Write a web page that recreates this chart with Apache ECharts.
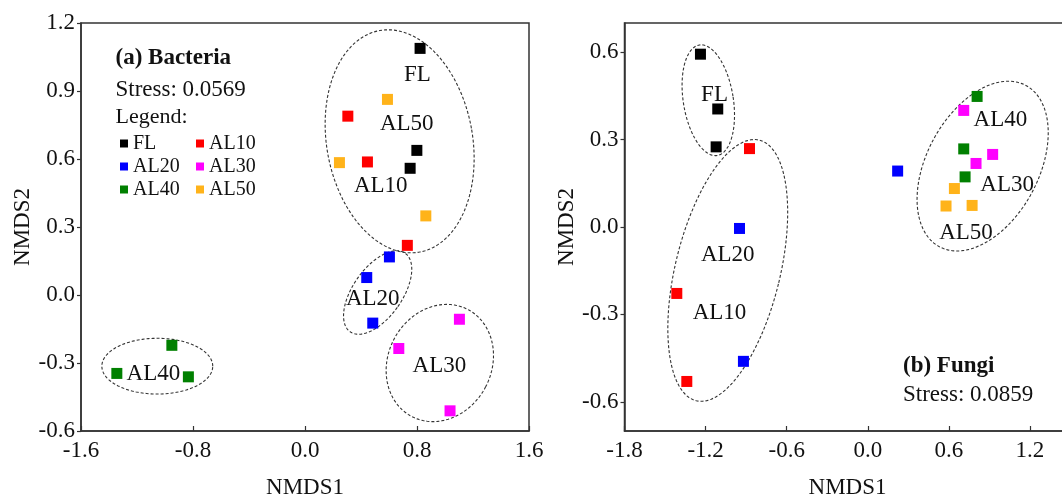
<!DOCTYPE html>
<html><head><meta charset="utf-8">
<script src="https://cdn.jsdelivr.net/npm/echarts@6/dist/echarts.min.js"></script>
<style>html,body{margin:0;padding:0;overflow:hidden;background:#fff}#c{width:1080px;height:497px}</style>
</head><body><div id="c"></div><script>
// ---------- data ----------
const groups = ['FL', 'AL10', 'AL20', 'AL30', 'AL40', 'AL50'];
// (a) Bacteria  [NMDS1, NMDS2]
const bacFL   = [[0.822, 1.088], [0.799, 0.638], [0.751, 0.559]];
const bacAL10 = [[0.306, 0.789], [0.446, 0.587], [0.731, 0.219]];
const bacAL20 = [[0.603, 0.168], [0.441, 0.077], [0.484, -0.124]];
const bacAL30 = [[1.103, -0.107], [0.670, -0.236], [1.036, -0.511]];
const bacAL40 = [[-0.951, -0.222], [-1.344, -0.346], [-0.833, -0.361]];
const bacAL50 = [[0.589, 0.863], [0.246, 0.584], [0.863, 0.349]];
// (b) Fungi
const funFL   = [[-1.238, 0.593], [-1.110, 0.405], [-1.122, 0.275]];
const funAL10 = [[-0.875, 0.269], [-1.413, -0.228], [-1.339, -0.530]];
const funAL20 = [[-0.949, -0.005], [-0.920, -0.461], [0.221, 0.192]];
const funAL30 = [[0.710, 0.400], [0.924, 0.249], [0.801, 0.218]];
const funAL40 = [[0.809, 0.448], [0.710, 0.268], [0.720, 0.172]];
const funAL50 = [[0.641, 0.132], [0.579, 0.072], [0.772, 0.074]];
// group ellipses: [centre NMDS1, centre NMDS2, half-width (NMDS1 units), half-height (NMDS2 units), tilt deg]
const bacEllipses = [[0.676, 0.678, 0.521, 0.4965, -10.2], [0.519, 0.011, 0.176, 0.2115, 35], [0.963, -0.300, 0.369, 0.2665, 27.8], [-1.055, -0.314, 0.396, 0.123, 0]];
const funEllipses = [[-1.180, 0.435, 0.185, 0.192, -9.1], [-1.036, -0.149, 0.388, 0.460, 13.6], [0.850, 0.209, 0.414, 0.314, 28.2]];
// group name annotations
const bacLabels = [['FL', 0.803, 0.972], ['AL50', 0.727, 0.756], ['AL10', 0.541, 0.483], ['AL20', 0.484, -0.019], ['AL30', 0.960, -0.313], ['AL40', -1.083, -0.349]];
const funLabels = [['FL', -1.134, 0.454], ['AL40', 0.981, 0.369], ['AL30', 1.031, 0.143], ['AL50', 0.727, -0.019], ['AL20', -1.036, -0.097], ['AL10', -1.097, -0.295]];
const bacXTicks = [-1.6, -0.8, 0.0, 0.8, 1.6];
const bacYTicks = [-0.6, -0.3, 0.0, 0.3, 0.6, 0.9, 1.2];
const funXTicks = [-1.8, -1.2, -0.6, 0.0, 0.6, 1.2];
const funYTicks = [-0.6, -0.3, 0.0, 0.3, 0.6];
// ---------- style ----------
const colors = ['#000000', '#FF0000', '#0000FF', '#FF00FF', '#008000', '#FFB31A'];
const FONT = "'Liberation Serif','Times New Roman',serif";
const TXT = '#111';
const bacData = [bacFL, bacAL10, bacAL20, bacAL30, bacAL40, bacAL50];
const funData = [funFL, funAL10, funAL20, funAL30, funAL40, funAL50];

function ellipseItem(params, api) {
  const c = api.coord([api.value(0), api.value(1)]);
  const s = api.size([api.value(2), api.value(3)]);
  const rx = s[0], ry = s[1], th = api.value(4) * Math.PI / 180;
  const pts = [];
  for (let i = 0; i <= 160; i++) {
    const t = i / 160 * 2 * Math.PI;
    pts.push([c[0] + rx * Math.cos(t) * Math.cos(th) + ry * Math.sin(t) * Math.sin(th),
              c[1] + rx * Math.cos(t) * Math.sin(th) - ry * Math.sin(t) * Math.cos(th)]);
  }
  return { type: 'polyline', shape: { points: pts }, style: { fill: null, stroke: '#333', lineWidth: 1.1, lineDash: [3, 2] } };
}
function labelRenderer(list) {
  return function (params, api) {
    const p = api.coord([api.value(0), api.value(1)]);
    return { type: 'text', x: p[0], y: p[1], style: { text: list[params.dataIndex][0], fontSize: 23, fontFamily: FONT, fill: TXT, align: 'center', verticalAlign: 'middle' } };
  };
}
function xAxis(idx, min, max, ticks) {
  return {
    type: 'value', gridIndex: idx, min: min, max: max, interval: ticks[1] - ticks[0],
    name: 'NMDS1', nameLocation: 'middle', nameGap: 45,
    nameTextStyle: { fontSize: 23, fontFamily: FONT, color: TXT },
    axisLine: { onZero: false, lineStyle: { color: '#333', width: 1.5 } },
    axisTick: { inside: true, length: 5, lineStyle: { color: '#333', width: 1.2 }, customValues: ticks },
    axisLabel: { fontSize: 23, fontFamily: FONT, color: TXT, margin: 8, customValues: ticks, formatter: v => (+v).toFixed(1) },
    splitLine: { show: false }
  };
}
function yAxis(idx, min, max, ticks, gap) {
  return {
    type: 'value', gridIndex: idx, min: min, max: max,
    name: 'NMDS2', nameLocation: 'middle', nameGap: gap,
    nameTextStyle: { fontSize: 23, fontFamily: FONT, color: TXT },
    axisLine: { onZero: false, lineStyle: { color: '#333', width: 1.5 } },
    axisTick: { inside: false, length: 4, lineStyle: { color: '#333', width: 1.2 }, customValues: ticks },
    axisLabel: { fontSize: 23, fontFamily: FONT, color: TXT, margin: 6, customValues: ticks, formatter: v => (+v).toFixed(1) },
    splitLine: { show: false }
  };
}
const series = [];
[bacData, funData].forEach((panel, p) => {
  series.push({ type: 'custom', xAxisIndex: p, yAxisIndex: p, silent: true, z: 1,
    data: p === 0 ? bacEllipses : funEllipses, encode: { x: 0, y: 1 }, renderItem: ellipseItem });
  panel.forEach((d, g) => {
    series.push({ type: 'scatter', name: groups[g], xAxisIndex: p, yAxisIndex: p, z: 3,
      symbol: 'rect', symbolSize: 11, itemStyle: { color: colors[g], opacity: 1 }, data: d });
  });
  const lab = p === 0 ? bacLabels : funLabels;
  series.push({ type: 'custom', xAxisIndex: p, yAxisIndex: p, silent: true, z: 2,
    data: lab.map(l => [l[1], l[2]]), encode: { x: 0, y: 1 }, renderItem: labelRenderer(lab) });
});

const chart = echarts.init(document.getElementById('c'), null, { renderer: 'canvas' });
chart.setOption({
  animation: false,
  backgroundColor: '#fff',
  color: colors,
  grid: [
    { left: 81, top: 23, width: 448, height: 408, containLabel: false, outerBoundsMode: 'none', show: true, borderColor: '#333', borderWidth: 1.5, backgroundColor: 'transparent' },
    { left: 624.5, top: 23, width: 446, height: 408, containLabel: false, outerBoundsMode: 'none', show: true, borderColor: '#333', borderWidth: 1.5, backgroundColor: 'transparent' }
  ],
  xAxis: [xAxis(0, -1.6, 1.6, bacXTicks), xAxis(1, -1.8, 1.5, funXTicks)],
  yAxis: [yAxis(0, -0.6, 1.2, bacYTicks, 45), yAxis(1, -0.7, 0.7, funYTicks, 45)],
  legend: {
    data: groups, left: 115, top: 127, width: 160, orient: 'horizontal',
    itemWidth: 8, itemHeight: 8, itemGap: 0, icon: 'rect', selectedMode: false,
    textStyle: { fontSize: 20, fontFamily: FONT, color: TXT, width: 63, lineHeight: 23 }
  },
  graphic: [
    { type: 'text', x: 115.5, y: 58.5, style: { text: '(a) Bacteria', fontSize: 23, fontWeight: 'bold', fontFamily: FONT, fill: TXT, verticalAlign: 'middle' } },
    { type: 'text', x: 115.5, y: 90, style: { text: 'Stress: 0.0569', fontSize: 23, fontFamily: FONT, fill: TXT, verticalAlign: 'middle' } },
    { type: 'text', x: 115.5, y: 117.5, style: { text: 'Legend:', fontSize: 22, fontFamily: FONT, fill: TXT, verticalAlign: 'middle' } },
    { type: 'text', x: 903, y: 366.5, style: { text: '(b) Fungi', fontSize: 23, fontWeight: 'bold', fontFamily: FONT, fill: TXT, verticalAlign: 'middle' } },
    { type: 'text', x: 903, y: 395, style: { text: 'Stress: 0.0859', fontSize: 23, fontFamily: FONT, fill: TXT, verticalAlign: 'middle' } }
  ],
  series: series
});
</script></body></html>
